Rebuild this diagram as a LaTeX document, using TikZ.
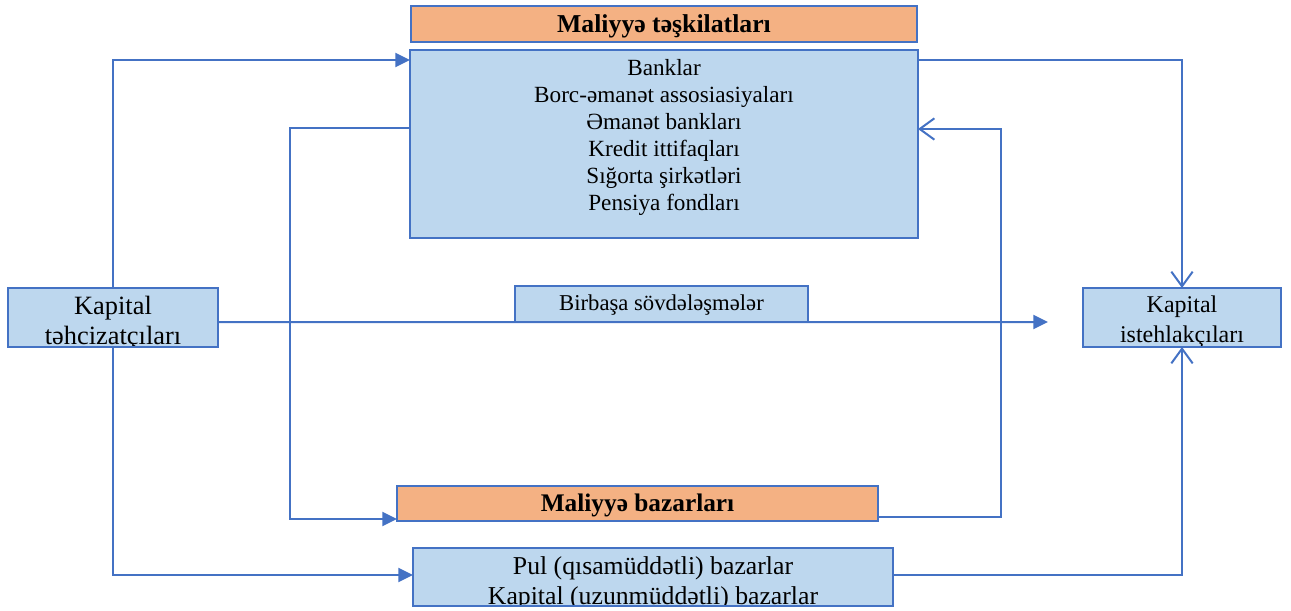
\documentclass[tikz,border=0pt]{standalone}
\usepackage{fontspec}
\setmainfont{Liberation Serif}
\usetikzlibrary{arrows.meta,backgrounds}
\definecolor{lineblue}{HTML}{4472C4}
\definecolor{boxblue}{HTML}{BDD7EE}
\definecolor{boxorange}{HTML}{F4B183}
\tikzset{
  box/.style={draw=lineblue, line width=1.6pt, fill=boxblue, inner sep=0pt, outer sep=0pt},
  titlebox/.style={box, fill=boxorange},
  txt/.style={align=center, inner sep=0pt},
  conn/.style={draw=lineblue, line width=1.5pt},
  solidtip/.style={-{Triangle[length=11pt,width=10.5pt]}},
  opentip/.style={-{Straight Barb[length=11pt,width=16pt,line width=1.5pt]}},
}
\begin{document}
\begin{tikzpicture}[x=0.75pt,y=-0.75pt]
\useasboundingbox (0,0) rectangle (1291,610);

% financial institutions
\node[titlebox, minimum width=379.5pt, minimum height=27pt] (orgT) at (664,24) {};
\node[txt, font=\fontsize{19.3}{22}\selectfont\bfseries] (orgTText) at (664,26)
  {Maliyyə təşkilatları};
\node[box, minimum width=381pt, minimum height=141pt] (fin) at (664,144) {};
\node[txt, font=\fontsize{17.4}{20.25}\selectfont] (finText) at (664,137)
  {Banklar\\ Borc-əmanət assosiasiyaları\\ Əmanət bankları\\
   Kredit ittifaqları\\ Sığorta şirkətləri\\ Pensiya fondları};

% suppliers and consumers of capital
\node[box, minimum width=157.5pt, minimum height=44.25pt, path picture={
  \node[txt, font=\fontsize{19.8}{22.5}\selectfont]
    at ([yshift=-4.5pt]path picture bounding box.center) {Kapital\\ təhcizatçıları};}]
  (sup) at (113,317.5) {};
\node[box, minimum width=148.5pt, minimum height=44.25pt, path picture={
  \node[txt, font=\fontsize{18}{22.5}\selectfont]
    at ([yshift=-2.8pt]path picture bounding box.center) {Kapital\\ istehlakçıları};}]
  (con) at (1182,317.5) {};

% direct deals
\node[box, minimum width=219.75pt, minimum height=27pt] (dir) at (661.5,304) {};
\node[txt, font=\fontsize{17}{20}\selectfont] (dirText) at (661.5,305.5)
  {Birbaşa sövdələşmələr};

% financial markets
\node[titlebox, minimum width=360.75pt, minimum height=26.25pt] (mkt) at (637.5,503.5) {};
\node[txt, font=\fontsize{19}{22}\selectfont\bfseries] (mktText) at (637.5,505.5)
  {Maliyyə bazarları};
\node[box, minimum width=360pt, minimum height=43.5pt, path picture={
  \node[txt, font=\fontsize{19.3}{22.5}\selectfont]
    at ([yshift=-4.5pt]path picture bounding box.center)
    {Pul (qısamüddətli) bazarlar\\ Kapital (uzunmüddətli) bazarlar};}]
  (pul) at (653,577) {};

% route points
\coordinate (lcol) at (290,0);
\coordinate (rcol) at (1001,0);
\coordinate (dirEnd) at (1048,322);
\coordinate (mktIn) at ([yshift=1.5pt]mkt.south west);

\begin{scope}[on background layer]
  % suppliers -> institutions
  \draw[conn,solidtip] (sup.north) |- ([yshift=-7.5pt]fin.north west);
  % institutions -> markets
  \draw[conn,solidtip] ([xshift=2pt,yshift=12pt]fin.west) -| (lcol |- mktIn) -- (mktIn);
  % direct deals
  \draw[conn,solidtip] ([yshift=-3.4pt]sup.east) -- (dirEnd);
  % suppliers -> money and capital markets
  \draw[conn,solidtip] (sup.south) |- ([yshift=1.5pt]pul.west);
  % institutions -> consumers
  \draw[conn,opentip] ([yshift=-7.5pt]fin.north east) -| (con.north);
  % markets -> institutions
  \draw[conn,opentip] ([yshift=-10pt]mkt.east) -| (rcol |- fin.east)
    |- ([yshift=11.25pt]fin.east);
  % money and capital markets -> consumers
  \draw[conn,opentip] ([xshift=-4pt,yshift=1.5pt]pul.east) -| (con.south);
\end{scope}
\end{tikzpicture}
\end{document}
